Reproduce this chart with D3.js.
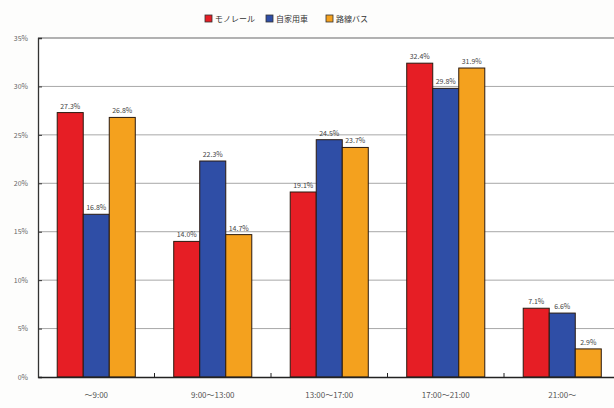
<!DOCTYPE html>
<html>
<head>
<meta charset="utf-8">
<script src="https://cdn.jsdelivr.net/npm/d3@7"></script>
<style>
  html, body { margin: 0; padding: 0; background: #fdfdfc; }
  svg { display: block; }
  text { font-family: "Noto Sans CJK JP", "Noto Sans", sans-serif; }
</style>
</head>
<body>
<script>
// Time-of-day categories
const categories = ["～9:00", "9:00～13:00", "13:00～17:00", "17:00～21:00", "21:00～"];
// Series (transport mode) names
const seriesNames = ["モノレール", "自家用車", "路線バス"];
// Share by time of day (%), one array per mode
const monorail = [27.3, 14.0, 19.1, 32.4, 7.1];
const car      = [16.8, 22.3, 24.5, 29.8, 6.6];
const bus      = [26.8, 14.7, 23.7, 31.9, 2.9];
// Y axis ticks (%)
const yTicks = [0, 5, 10, 15, 20, 25, 30, 35];

const seriesValues = [monorail, car, bus];
const colors = ["#e61e25", "#2f4ea6", "#f4a11e"];

const W = 614, H = 408;
const plot = { left: 38, top: 38, right: 620.5, bottom: 377 };

const svg = d3.select("body").append("svg")
  .attr("width", W).attr("height", H);

svg.append("rect").attr("width", W).attr("height", H).attr("fill", "#fdfdfc");

const x0 = d3.scaleBand().domain(categories).range([plot.left, plot.right]).padding(0);
const groupW = x0.step() * 0.67;
const x1 = d3.scaleBand().domain(seriesNames)
  .range([(x0.step() - groupW) / 2, (x0.step() + groupW) / 2]).padding(0);
const y = d3.scaleLinear().domain([0, 35]).range([plot.bottom, plot.top]);

// plot area background
svg.append("rect")
  .attr("x", plot.left).attr("y", plot.top)
  .attr("width", plot.right - plot.left).attr("height", plot.bottom - plot.top)
  .attr("fill", "#ffffff");

// horizontal gridlines
svg.append("g").selectAll("line")
  .data(yTicks.filter(t => t > 0))
  .join("line")
  .attr("x1", plot.left).attr("x2", plot.right)
  .attr("y1", d => y(d)).attr("y2", d => y(d))
  .attr("stroke", d => d === 35 ? "#666" : "#a8a8a8")
  .attr("stroke-width", d => d === 35 ? 1.2 : 1);

// y axis
const yAxis = d3.axisLeft(y).tickValues(yTicks).tickFormat(d => d + "%").tickSize(-4).tickPadding(10);
const gy = svg.append("g").attr("transform", `translate(${plot.left},0)`).call(yAxis);
gy.select(".domain").attr("stroke", "#333").attr("stroke-width", 1.3);
gy.selectAll(".tick line").attr("stroke", "#333");
gy.selectAll(".tick text").attr("font-size", 7).attr("fill", "#666");

// bars
const groups = svg.append("g").selectAll("g")
  .data(categories)
  .join("g")
  .attr("transform", d => `translate(${x0(d)},0)`);

groups.selectAll("rect")
  .data((c, i) => seriesNames.map((s, k) => ({ s, k, v: seriesValues[k][i] })))
  .join("rect")
  .attr("x", d => x1(d.s))
  .attr("y", d => y(d.v))
  .attr("width", x1.bandwidth())
  .attr("height", d => y(0) - y(d.v))
  .attr("fill", d => colors[d.k])
  .attr("stroke", "#2a1a10")
  .attr("stroke-width", 1);

groups.selectAll("text")
  .data((c, i) => seriesNames.map((s, k) => ({ s, k, v: seriesValues[k][i] })))
  .join("text")
  .attr("x", d => x1(d.s) + x1.bandwidth() / 2)
  .attr("y", d => y(d.v) - 4)
  .attr("text-anchor", "middle")
  .attr("font-size", 7)
  .attr("fill", "#444")
  .text(d => d.v.toFixed(1) + "%");

// x axis
const xAxis = d3.axisBottom(x0).tickSize(0).tickPadding(15);
const gx = svg.append("g").attr("transform", `translate(0,${plot.bottom})`).call(xAxis);
gx.select(".domain").attr("stroke", "#222").attr("stroke-width", 1.3);
gx.selectAll(".tick text").attr("font-size", 8).attr("fill", "#555");

// category separators on the x axis
svg.append("g").selectAll("line")
  .data(categories.slice(1))
  .join("line")
  .attr("x1", d => x0(d)).attr("x2", d => x0(d))
  .attr("y1", plot.bottom).attr("y2", plot.bottom - 4)
  .attr("stroke", "#222");

// legend
const legendX = [205, 266, 326];
const legend = svg.append("g").selectAll("g")
  .data(seriesNames)
  .join("g")
  .attr("transform", (d, i) => `translate(${legendX[i]},15)`);
legend.append("rect")
  .attr("width", 7).attr("height", 7)
  .attr("fill", (d, i) => colors[i])
  .attr("stroke", "#333").attr("stroke-width", 0.8);
legend.append("text")
  .attr("x", 10).attr("y", 7)
  .attr("font-size", 8).attr("fill", "#333")
  .text(d => d);
</script>
</body>
</html>
